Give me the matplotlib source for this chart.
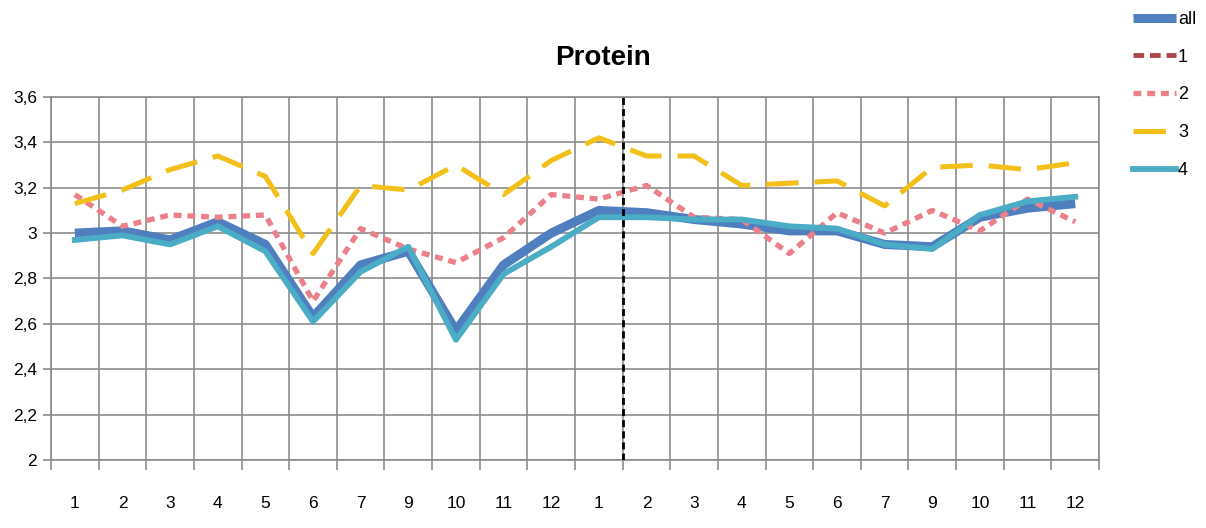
import numpy as np
import matplotlib
matplotlib.use("Agg")
import matplotlib.pyplot as plt
from matplotlib.ticker import FixedLocator, FuncFormatter

plt.rcParams['font.family'] = ['Liberation Sans Narrow', 'Liberation Sans', 'DejaVu Sans']

# months over two seasons (8 is missing in both)
meses = ["1", "2", "3", "4", "5", "6", "7", "9", "10", "11", "12",
         "1", "2", "3", "4", "5", "6", "7", "9", "10", "11", "12"]

prot_all = [3.00, 3.01, 2.97, 3.05, 2.95, 2.63, 2.86, 2.92, 2.57, 2.86, 3.00,
            3.10, 3.09, 3.06, 3.04, 3.01, 3.01, 2.95, 2.94, 3.07, 3.11, 3.13]
prot_1 = []  # sem valores visiveis
prot_2 = [3.17, 3.03, 3.08, 3.07, 3.08, 2.70, 3.02, 2.93, 2.87, 2.98, 3.17,
          3.15, 3.21, 3.07, 3.06, 2.91, 3.09, 3.00, 3.10, 3.01, 3.15, 3.05]
prot_3 = [3.13, 3.19, 3.28, 3.34, 3.25, 2.91, 3.21, 3.19, 3.30, 3.17, 3.32,
          3.42, 3.34, 3.34, 3.21, 3.22, 3.23, 3.12, 3.29, 3.30, 3.28, 3.31]
prot_4 = [2.97, 2.99, 2.95, 3.03, 2.92, 2.61, 2.83, 2.94, 2.53, 2.82, 2.94,
          3.07, 3.07, 3.06, 3.06, 3.03, 3.02, 2.95, 2.93, 3.08, 3.14, 3.16]

x = np.arange(len(meses))

fig = plt.figure(figsize=(12.06, 5.28), dpi=100)
ax = fig.add_axes([0.0423, 0.1288, 0.869, 0.6875])

ax.plot(x, prot_all, color='#4F7FBE', lw=6.5, solid_capstyle='butt', label='all', zorder=3)
ax.plot(x[:len(prot_1)], prot_1, color='#A9474A', lw=3.5, dashes=(2.2, 1.2), label='1', zorder=3)
ax.plot(x, prot_2, color='#EB7F8A', lw=3.8, dashes=(1.5, 1.1), label='2', zorder=4)
ax.plot(x, prot_3, color='#F2C019', lw=3.6, dashes=(6.5, 3.2), label='3', zorder=4)
ax.plot(x, prot_4, color='#4BACC6', lw=4.2, label='4', zorder=5)

# separação entre os dois anos
ax.axvline(11.5, color='black', lw=2.0, dashes=(2.5, 1.5), zorder=6)

ax.set_xlim(-0.5, len(meses) - 0.5)
ax.set_ylim(2, 3.6)

# grade nas divisões das categorias, rótulos no centro
ax.xaxis.set_major_locator(FixedLocator(np.arange(-0.5, len(meses), 1)))
ax.xaxis.set_minor_locator(FixedLocator(x))
ax.set_xticklabels([], minor=False)
ax.set_xticklabels(meses, minor=True)
ax.tick_params(axis='x', which='major', length=7, color='#8C8C8C', width=1.2)
ax.tick_params(axis='x', which='minor', length=0, pad=26, labelsize=12.5)

ax.set_yticks(np.arange(2, 3.61, 0.2))
ax.yaxis.set_major_formatter(FuncFormatter(lambda v, p: f"{v:.1f}".replace('.', ',').replace(',0', '')))
ax.tick_params(axis='y', length=6, color='#8C8C8C', width=1.2, labelsize=12.5, pad=4)

ax.grid(True, which='major', color='#8C8C8C', lw=1.2)
for s in ax.spines.values():
    s.set_color('#8C8C8C')
    s.set_linewidth(1.2)

fig.text(0.5, 0.89, "Protein", ha='center', va='center', fontsize=20, fontweight='bold')

fig.legend(loc='upper right', bbox_to_anchor=(0.998, 0.993), frameon=False,
           handlelength=2.4, handletextpad=0.1, labelspacing=1.15, fontsize=13,
           borderaxespad=0)

fig.savefig("out.png", dpi=100)
